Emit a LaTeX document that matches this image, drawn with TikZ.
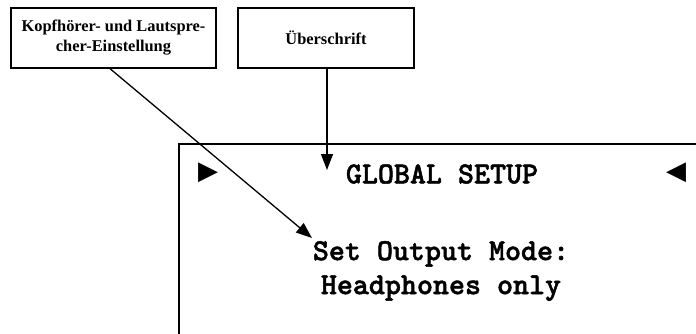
\documentclass[tikz,border=0pt]{standalone}
\usepackage{fontspec}
\setmainfont{Liberation Serif}
\newfontfamily\monob{lmmonolt10-bold.otf}[FakeBold=1.6]
\newfontfamily\symf{DejaVu Sans}
\usetikzlibrary{arrows.meta}
\begin{document}
\begin{tikzpicture}[x=1pt,y=-1pt,
  labelbox/.style={draw, line width=1.3pt, inner sep=0pt, font=\bfseries\fontsize{16.4}{20}\selectfont, align=center},
  screen/.style={font=\monob\fontsize{30.5}{34}\selectfont, inner sep=0pt, align=center},
  pointer/.style={line width=1.3pt, -{Triangle[length=16pt,width=12pt]}},
  sym/.style={font=\symf\fontsize{26}{26}\selectfont, inner sep=0pt}]
\useasboundingbox (0,0) rectangle (696,333);
\clip (0,0) rectangle (696,333);
% big screen frame
\draw[line width=1.5pt] (179,345) -- (179,144) -- (710,144);
% label boxes
\node[labelbox, minimum width=205pt, minimum height=60pt] (kopf) at (113.5,38) {Kopfhörer- und Lautspre-\\cher-Einstellung};
\node[labelbox, minimum width=176pt, minimum height=60pt] (ueber) at (326,38) {Überschrift};
% screen texts
\node[screen] (title) at (442,174) {GLOBAL SETUP};
\node[screen] (mode) at (441,271) {Set Output Mode:\\Headphones only};
\node[sym] (left) at (208,173) {▶};
\node[sym] (right) at (676,173) {◀};
% arrow targets
\coordinate (t1) at (312,238);
\coordinate (t2) at (327,170);
\draw[pointer] (kopf.south -| 110,0) -- (t1);
\draw[pointer] (ueber.south -| t2) -- (t2);
\end{tikzpicture}
\end{document}
